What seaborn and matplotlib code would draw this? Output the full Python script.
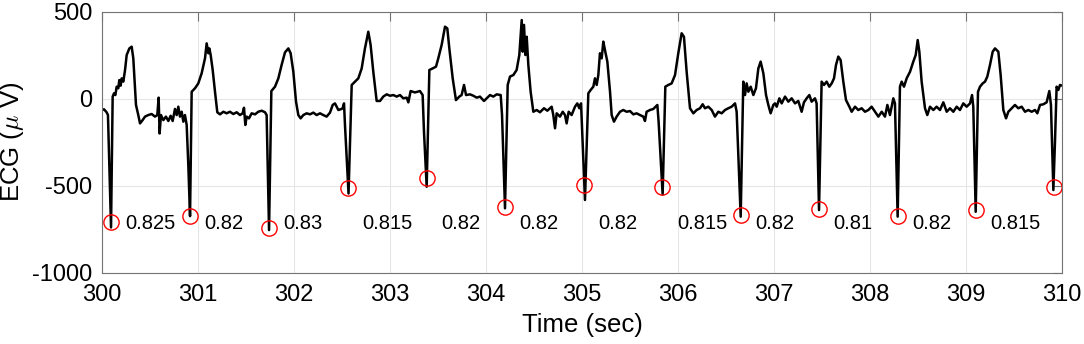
import numpy as np
import pandas as pd
import matplotlib
matplotlib.use('Agg')
import matplotlib.pyplot as plt
import seaborn as sns

# ECG trace vertices (time in sec, amplitude in uV)
ecg_t = [300.000, 300.021, 300.048, 300.062, 300.094, 300.111, 300.125, 300.139, 300.153, 300.170,
         300.180, 300.194, 300.205, 300.222, 300.240, 300.257, 300.285, 300.309, 300.326, 300.354,
         300.378, 300.396, 300.423, 300.448, 300.482, 300.517, 300.552, 300.576, 300.590, 300.600,
         300.614, 300.639, 300.666, 300.691, 300.715, 300.736, 300.760, 300.778, 300.795, 300.812,
         300.830, 300.847, 300.864, 300.882, 300.899, 300.917, 300.934, 300.969, 301.003, 301.038,
         301.073, 301.090, 301.108, 301.118, 301.132, 301.153, 301.177, 301.201, 301.229, 301.264,
         301.298, 301.333, 301.368, 301.403, 301.437, 301.465, 301.479, 301.493, 301.507, 301.531,
         301.559, 301.594, 301.628, 301.663, 301.698, 301.715, 301.740, 301.764, 301.802, 301.837,
         301.871, 301.906, 301.941, 301.965, 301.993, 302.021, 302.045, 302.069, 302.097, 302.132,
         302.167, 302.201, 302.236, 302.271, 302.305, 302.340, 302.375, 302.403, 302.427, 302.462,
         302.490, 302.507, 302.521, 302.531, 302.568, 302.601, 302.635, 302.670, 302.705, 302.739,
         302.774, 302.798, 302.826, 302.861, 302.896, 302.930, 302.965, 303.000, 303.035, 303.069,
         303.104, 303.139, 303.174, 303.191, 303.215, 303.260, 303.312, 303.340, 303.354, 303.382,
         303.410, 303.444, 303.479, 303.503, 303.538, 303.573, 303.597, 303.618, 303.653, 303.687,
         303.722, 303.746, 303.771, 303.792, 303.833, 303.868, 303.903, 303.937, 303.979, 304.007,
         304.042, 304.076, 304.111, 304.153, 304.167, 304.198, 304.226, 304.250, 304.285, 304.319,
         304.347, 304.372, 304.382, 304.396, 304.410, 304.424, 304.441, 304.465, 304.493, 304.528,
         304.562, 304.604, 304.639, 304.684, 304.701, 304.719, 304.736, 304.771, 304.799, 304.823,
         304.840, 304.861, 304.892, 304.927, 304.951, 304.972, 304.990, 305.031, 305.066, 305.090,
         305.118, 305.135, 305.153, 305.170, 305.187, 305.205, 305.222, 305.239, 305.264, 305.292,
         305.309, 305.333, 305.361, 305.396, 305.430, 305.465, 305.500, 305.535, 305.569, 305.604,
         305.639, 305.656, 305.673, 305.708, 305.743, 305.785, 305.798, 305.840, 305.868, 305.899,
         305.934, 305.969, 306.003, 306.038, 306.062, 306.090, 306.125, 306.160, 306.194, 306.229,
         306.257, 306.281, 306.316, 306.351, 306.385, 306.420, 306.455, 306.490, 306.524, 306.559,
         306.594, 306.611, 306.653, 306.680, 306.698, 306.715, 306.733, 306.757, 306.785, 306.812,
         306.837, 306.861, 306.889, 306.917, 306.941, 306.965, 306.993, 307.010, 307.028, 307.056,
         307.080, 307.115, 307.149, 307.184, 307.219, 307.253, 307.288, 307.312, 307.340, 307.368,
         307.392, 307.427, 307.444, 307.469, 307.496, 307.521, 307.548, 307.576, 307.601, 307.625,
         307.646, 307.670, 307.694, 307.722, 307.750, 307.785, 307.809, 307.844, 307.878, 307.913,
         307.948, 307.983, 308.017, 308.052, 308.087, 308.122, 308.156, 308.181, 308.208, 308.243,
         308.260, 308.288, 308.312, 308.330, 308.354, 308.382, 308.417, 308.451, 308.476, 308.497,
         308.514, 308.538, 308.573, 308.597, 308.625, 308.660, 308.694, 308.729, 308.764, 308.799,
         308.833, 308.868, 308.903, 308.937, 308.972, 309.007, 309.042, 309.063, 309.076, 309.101,
         309.125, 309.146, 309.174, 309.198, 309.222, 309.250, 309.278, 309.302, 309.337, 309.361,
         309.389, 309.417, 309.441, 309.476, 309.510, 309.545, 309.580, 309.615, 309.649, 309.684,
         309.719, 309.743, 309.771, 309.806, 309.840, 309.868, 309.885, 309.910, 309.927, 309.944,
         309.962, 309.979, 310.000]
ecg_uv = [-65, -61, -78, -94, -740, 12, 31, 21, 69, 60,
          107, 75, 117, 98, 165, 251, 289, 299, 232, -36,
          -94, -142, -123, -103, -94, -88, -103, -94, 6, -200,
          -94, -123, -103, -128, -98, -128, -59, -94, -46, -103,
          -75, -132, -94, -151, -381, -675, 40, 60, 88, 146,
          232, 318, 261, 289, 251, 165, 40, -78, -90, -75,
          -84, -75, -88, -78, -94, -84, -52, -151, -103, -113,
          -84, -90, -75, -69, -78, -94, -755, 44, 69, 117,
          194, 266, 289, 261, 155, -17, -94, -113, -94, -84,
          -90, -80, -94, -84, -94, -103, -80, -36, -27, -65,
          -60, -55, -27, -151, -545, 79, 98, 117, 174, 289,
          385, 309, 155, -13, -13, 12, 25, 17, 21, 12,
          21, 2, 6, -21, 44, 36, 44, 21, -190, -506,
          165, 174, 184, 232, 309, 414, 404, 289, 117, -8,
          12, 21, 79, 21, 25, 17, 6, 12, -13, 2,
          21, 12, 25, 21, -94, -630, 79, 127, 136, 165,
          251, 452, 270, 424, 251, 356, 194, 40, -75, -65,
          -78, -55, -69, -46, -94, -170, -84, -103, -75, -94,
          -142, -75, -94, -46, -27, -55, -27, -582, 31, 50,
          69, 117, 79, 136, 261, 232, 328, 280, 213, 40,
          -94, -132, -103, -75, -65, -75, -71, -90, -84, -94,
          -103, -128, -75, -65, -59, -36, -132, -550, 69, 79,
          88, 136, 261, 376, 356, 155, -55, -84, -65, -55,
          -32, -55, -46, -65, -103, -75, -84, -65, -55, -46,
          -27, -75, -678, 98, 21, 88, 40, 69, 21, 60,
          174, 213, 146, 21, -36, -84, -36, -27, -46, 2,
          -27, 12, -17, 2, -27, -13, -75, -21, 2, 21,
          -17, 2, -27, -640, 98, 79, 98, 69, 88, 117,
          194, 242, 222, 98, -8, -46, -75, -46, -65, -55,
          -75, -65, -46, -75, -103, -75, -103, -36, -94, 2,
          -27, -678, 69, 98, 69, 117, 155, 213, 251, 337,
          270, 98, -55, -94, -46, -65, -46, -65, -21, -75,
          -55, -75, -46, -65, -27, -46, -27, 21, -46, -650,
          40, 69, 88, 98, 127, 194, 270, 289, 270, 136,
          -65, -113, -75, -55, -36, -55, -46, -75, -65, -75,
          -65, -84, -36, -32, -21, 44, -36, -525, -247, 69,
          50, 79, 75]

# detected R peaks (red circles) and RR intervals written between them
peak_time = [300.095, 300.917, 301.742, 302.566, 303.382, 304.198, 305.021,
             305.837, 306.653, 307.469, 308.287, 309.101, 309.920]
peak_uv = [-707, -674, -745, -515, -454, -620, -496, -510, -669, -636, -672, -638, -510]
rr_labels = ['0.825', '0.82', '0.83', '0.815', '0.82', '0.82', '0.82',
             '0.815', '0.82', '0.81', '0.82', '0.815']

sns.set_style('white')
plt.rcParams['font.family'] = ['Liberation Sans', 'DejaVu Sans']
plt.rcParams['mathtext.fontset'] = 'cm'
plt.rcParams['axes.unicode_minus'] = False
plt.rcParams['text.color'] = 'black'
plt.rcParams['axes.labelcolor'] = 'black'

df = pd.DataFrame({'t': ecg_t, 'uv': ecg_uv})

fig = plt.figure(figsize=(10.84, 3.44), dpi=100)
ax = fig.add_axes([0.0941, 0.2073, 0.8856, 0.7587])

sns.lineplot(data=df, x='t', y='uv', ax=ax, color='black', lw=1.8,
             estimator=None, sort=False)
ax.plot(peak_time, peak_uv, 'o', mfc='none', mec='red', ms=11, mew=1)

for t, lab in zip(peak_time[:-1], rr_labels):
    ax.text(t + 0.15, -715, lab, fontsize=14.5, ha='left', va='center', color='black')

ax.set_xlim(300, 310)
ax.set_ylim(-1000, 500)
ax.set_xticks(np.arange(300, 311, 1))
ax.set_yticks([-1000, -500, 0, 500])
ax.grid(True, color='0.9', lw=0.8)
ax.set_axisbelow(True)

for s in ax.spines.values():
    s.set_visible(True)
    s.set_color('0.45')
    s.set_linewidth(0.8)
ax.tick_params(direction='in', top=True, right=True, length=6.5, width=0.8,
               color='0.45', labelsize=17, labelcolor='black')
ax.tick_params(axis='x', pad=8)
ax.tick_params(axis='y', pad=7)

ax.set_xlabel('Time (sec)', fontsize=18.5, labelpad=5, color='black')
ax.set_ylabel('ECG ($\\mu$ V)', fontsize=18.5, color='black')

fig.savefig('out.png', dpi=100)
